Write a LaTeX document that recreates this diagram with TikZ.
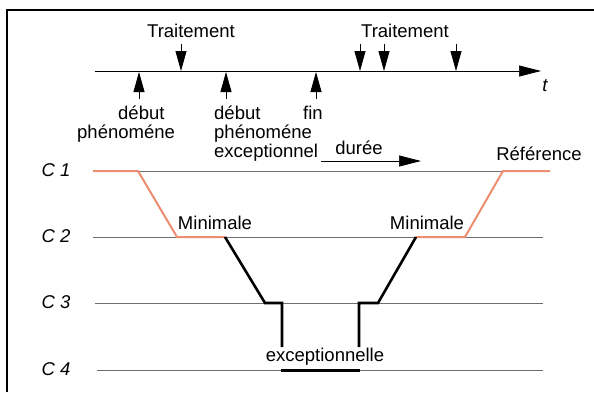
\documentclass[tikz,border=0pt]{standalone}
\usepackage{fontspec}
\setmainfont{Liberation Sans}
\usetikzlibrary{positioning,arrows.meta}
\definecolor{refline}{RGB}{236,140,112}
\definecolor{levelgray}{RGB}{110,110,110}

\begin{document}
\begin{tikzpicture}[x=1pt, y=-1pt,
      every node/.style={font=\fontsize{18.5}{19}\selectfont, inner sep=0pt, anchor=base},
      lvllbl/.style={font=\fontsize{18.5}{19}\selectfont\itshape},
      lvlline/.style={draw=levelgray, line width=0.7pt},
      refpath/.style={draw=refline, line width=2pt, line join=round},
      excpath/.style={draw=black, line width=2.6pt, line join=miter},
      tickarr/.style={-{Triangle[length=20pt, width=11pt]}, line width=0.8pt},
      axisarr/.style={-{Triangle[length=22pt, width=11pt]}, line width=0.7pt}
    ]
      \useasboundingbox (0,0) rectangle (594,392);
      % frame
      \draw[line width=1.6pt] (7,392) -- (7,10) -- (594,10);

      % time axis
      \coordinate (ax0) at (95,71);
      \coordinate (ax1) at (541,71);
      \draw[axisarr] (ax0) -- (ax1);
      \node (tlab) at (545,91) {\itshape t};

      % Traitement (left)
      \node (tr1) at (191,37) {Traitement};
      \coordinate (d1s) at (181,44);
      \coordinate (d1) at (181,71);
      \draw[tickarr] (d1s) -- (d1);

      % Traitement (right)
      \node (tr2) at (405,37) {Traitement};
      \coordinate (d2s) at (360,44);
      \coordinate (d2) at (360,71);
      \draw[tickarr] (d2s) -- (d2);
      \coordinate (d3s) at (384,44);
      \coordinate (d3) at (384,71);
      \draw[tickarr] (d3s) -- (d3);
      \coordinate (d4s) at (456,44);
      \coordinate (d4) at (456,71);
      \draw[tickarr] (d4s) -- (d4);

      % events under the axis (base = last line)
      \node[anchor=base west, align=left] (ev1) at (77,138) {\hspace*{41pt}début\\phénoméne};
      \coordinate (u1s) at (139,99);
      \coordinate (u1) at (139,72);
      \draw[tickarr] (u1s) -- (u1);

      \node[anchor=base west, align=left] (ev2) at (214,157) {début\\phénoméne\\exceptionnel};
      \coordinate (u2s) at (226,99);
      \coordinate (u2) at (226,72);
      \draw[tickarr] (u2s) -- (u2);

      \node (ev3) at (313,119) {fin};
      \coordinate (u3s) at (316,99);
      \coordinate (u3) at (316,72);
      \draw[tickarr] (u3s) -- (u3);

      % duree
      \node (dur) at (359,154) {durée};
      \coordinate (du0) at (321,161);
      \coordinate (du1) at (421,161);
      \draw[axisarr] (du0) -- (du1);

      % levels C1..C4
      \node[lvllbl] (c1) at (56,176) {C 1};
      \node[lvllbl] (c2) at (56,242) {C 2};
      \node[lvllbl] (c3) at (56,308) {C 3};
      \node[lvllbl] (c4) at (56,375) {C 4};
      \draw[lvlline] (93,171) -- (543,171);
      \draw[lvlline] (93,237) -- (543,237);
      \draw[lvlline] (95,303) -- (543,303);
      \draw[lvlline] (97,370) -- (543,370);

      % reference / minimale path
      \node (ref) at (539,160) {Référence};
      \node (min1) at (215,229) {Minimale};
      \node (min2) at (427,229) {Minimale};
      \draw[refpath] (93,171) -- (138,171) -- (177,237) -- (225,237);
      \draw[refpath] (416,237) -- (465,237) -- (503,171) -- (550,171);

      % exceptionnelle path
      \node (exc) at (325,361) {exceptionnelle};
      \draw[excpath] (225,237) -- (265,303) -- (282,303) -- (282,347);
      \draw[excpath] (359,347) -- (359,303) -- (378,303) -- (416,237);
      \draw[excpath, line width=3pt] (281,370) -- (360,370);
    \end{tikzpicture}
\end{document}
